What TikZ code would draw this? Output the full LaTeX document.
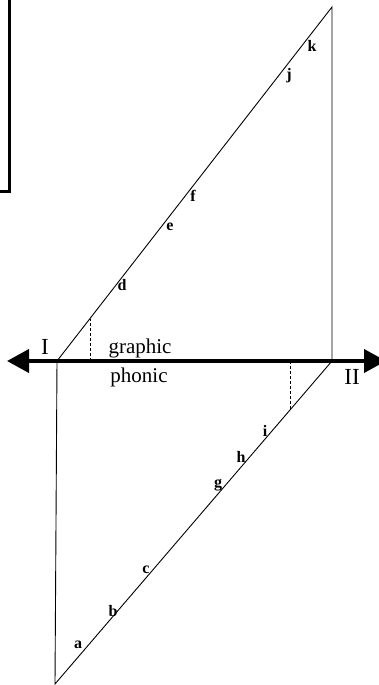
\documentclass[tikz,border=0pt]{standalone}
\usepackage{fontspec}
\setmainfont{Liberation Serif}
\usetikzlibrary{arrows.meta}
\begin{document}
\begin{tikzpicture}[x=1pt,y=-1pt,
  thinline/.style={line width=0.9pt},
  lbl/.style={font=\fontsize{16}{16}\selectfont\bfseries, inner sep=0pt},
  big/.style={font=\fontsize{21}{21}\selectfont, inner sep=0pt},
  roman/.style={font=\fontsize{23}{23}\selectfont, inner sep=0pt},
  dashline/.style={line width=0.9pt, dashed, dash pattern=on 3pt off 2pt}]
\useasboundingbox (0,0) rectangle (378,685);
% fragment of a box at top left
\draw[line width=3pt] (-5,191) -- (9.5,191) -- (9.5,-5);
% key points
\coordinate (I) at (57,361);
\coordinate (II) at (332,361);
\coordinate (top) at (332,7);
\coordinate (bot) at (55,684);
\coordinate (lt) at (7,361);
\coordinate (rt) at (386,361);
\coordinate (du1) at (90,318.5);
\coordinate (du0) at (90,361);
\coordinate (dl1) at (290,410);
\coordinate (dl0) at (290,361);
% triangle lines
\draw[thinline] (I) -- (top) -- (II);
\draw[thinline] (II) -- (bot) -- (I);
% dashed
\draw[dashline] (du0) -- (du1);
\draw[dashline] (dl0) -- (dl1);
% axis
\draw[line width=4pt, {Triangle[length=22pt,width=23pt]}-{Triangle[length=22pt,width=23pt]}] (lt) -- (rt);
% labels
\node[roman] (nI) at (45,347) {I};
\node[roman] (nII) at (352,377) {II};
\node[big] (gr) at (140,348) {graphic};
\node[big] (ph) at (139,377) {phonic};
\node[lbl] (a) at (78,645) {a};
\node[lbl] (b) at (113,611) {b};
\node[lbl] (c) at (146,570) {c};
\node[lbl] (d) at (122,285) {d};
\node[lbl] (e) at (170,227) {e};
\node[lbl] (f) at (193,196) {f};
\node[lbl] (g) at (218,485) {g};
\node[lbl] (h) at (241,457) {h};
\node[lbl] (i) at (265,431) {i};
\node[lbl] (j) at (289,76) {j};
\node[lbl] (k) at (312,46) {k};
\end{tikzpicture}
\end{document}
